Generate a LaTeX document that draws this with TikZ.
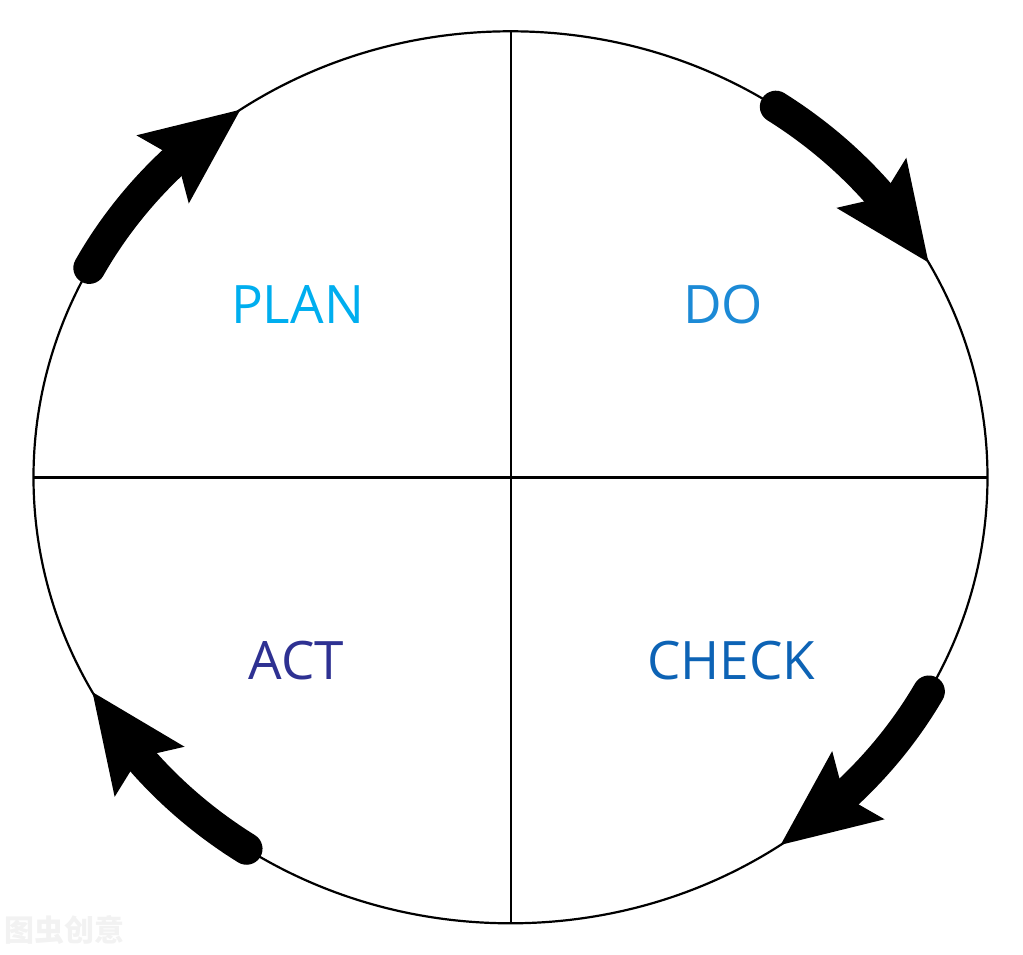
\documentclass[tikz,border=0pt]{standalone}
\usepackage{fontspec}
\setmainfont{Open Sans}
\newfontfamily\cjk{Noto Sans CJK SC}
\usetikzlibrary{arrows.meta,bending}
\definecolor{plancol}{HTML}{00AEEF}
\definecolor{docol}{HTML}{1C8AD6}
\definecolor{checkcol}{HTML}{0D63B5}
\definecolor{actcol}{HTML}{2E3192}
\begin{document}
\begin{tikzpicture}[x=1pt,y=1pt,
  ring/.style={line width=2.2pt},
  cyclearrow/.style={line width=32pt, line cap=round,
    -{Stealth[length=98pt,width=86pt,inset=18pt,line width=0pt,flex]}},
  phase/.style={font=\fontsize{53}{60}\selectfont, inner sep=0pt}]
\useasboundingbox (-510.5,-477.7) rectangle (512.5,477.3);
\coordinate (C) at (0,0);
\draw[ring] (C) ellipse[x radius=477pt, y radius=446pt];
\coordinate (top) at (0.5,446.3);
\coordinate (bot) at (0.5,-446.3);
\coordinate (lft) at (-477.2,-0.2);
\coordinate (rgt) at (477.2,-0.2);
\draw[ring] (top) -- (bot);
\draw[ring] (lft) -- (rgt);
% arrows (clockwise)
\coordinate (a1) at (152:477pt and 446pt);
\coordinate (a2) at (56.2:477pt and 446pt);
\coordinate (a3) at (-28.7:477pt and 446pt);
\coordinate (a4) at (-123.6:477pt and 446pt);
\draw[cyclearrow] (a1) arc[start angle=152, end angle=124.5, x radius=477pt, y radius=446pt];
\draw[cyclearrow] (a2) arc[start angle=56.2, end angle=28.8, x radius=477pt, y radius=446pt];
\draw[cyclearrow] (a3) arc[start angle=-28.7, end angle=-55.5, x radius=477pt, y radius=446pt];
\draw[cyclearrow] (a4) arc[start angle=-123.6, end angle=-151.2, x radius=477pt, y radius=446pt];
% labels
\node[phase, text=plancol] (plan) at (-213,172.3) {PLAN};
\node[phase, text=docol] (do) at (212.5,172.3) {DO};
\node[phase, text=checkcol] (check) at (220.5,-183.2) {CHECK};
\node[phase, text=actcol] (act) at (-214,-183) {ACT};
\node[font=\cjk\bfseries\fontsize{30}{30}\selectfont, text=black!5, inner sep=0pt] (wm) at (-445.5,-452.7) {图虫创意};
\end{tikzpicture}
\end{document}
